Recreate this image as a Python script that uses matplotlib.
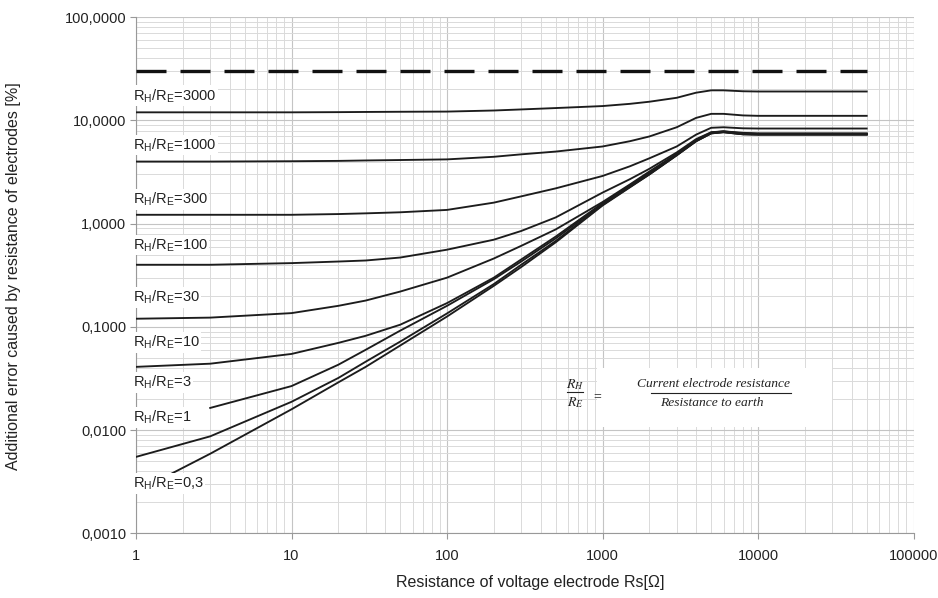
import numpy as np
import matplotlib.pyplot as plt
from matplotlib.lines import Line2D
from matplotlib.patches import Rectangle
from matplotlib.ticker import FixedLocator, FuncFormatter, LogLocator, NullFormatter

plt.rcParams['font.family'] = ['Liberation Sans', 'DejaVu Sans']
plt.rcParams['mathtext.fontset'] = 'custom'
plt.rcParams['mathtext.rm'] = 'Liberation Sans'

# Resistance of voltage electrode Rs [ohm]
rs = [1, 3, 10, 20, 30, 50, 100, 200, 300, 500, 1000, 1500, 2000, 3000, 4000, 5000, 6000, 8000, 10000, 50000]
rs_3 = rs[1:]                 # RH/RE=3 starts at Rs=3
rs_03 = [1.7] + rs[1:]        # RH/RE=0,3 starts a bit right of Rs=1

# Additional error [%] for each ratio RH/RE
err_3000 = [12.0, 12.0, 12.0, 12.05, 12.1, 12.15, 12.2, 12.5, 12.8, 13.2, 13.8, 14.5, 15.2, 16.6, 18.6, 19.6, 19.6, 19.2, 19.1, 19.1]
err_1000 = [4.0, 4.0, 4.03, 4.06, 4.1, 4.14, 4.2, 4.45, 4.7, 5.0, 5.6, 6.3, 7.0, 8.6, 10.6, 11.6, 11.6, 11.2, 11.1, 11.1]
err_300 = [1.22, 1.22, 1.22, 1.24, 1.26, 1.29, 1.36, 1.6, 1.84, 2.2, 2.9, 3.6, 4.3, 5.6, 7.3, 8.5, 8.6, 8.4, 8.36, 8.36]
err_100 = [0.40, 0.40, 0.415, 0.43, 0.44, 0.47, 0.56, 0.70, 0.85, 1.15, 2.0, 2.7, 3.4, 4.9, 6.6, 7.7, 7.85, 7.6, 7.5, 7.5]
err_30 = [0.12, 0.123, 0.136, 0.16, 0.18, 0.22, 0.30, 0.46, 0.61, 0.88, 1.62, 2.4, 3.2, 4.75, 6.45, 7.65, 7.85, 7.5, 7.45, 7.45]
err_10 = [0.041, 0.044, 0.0547, 0.07, 0.082, 0.105, 0.17, 0.30, 0.45, 0.75, 1.58, 2.35, 3.1, 4.7, 6.4, 7.6, 7.8, 7.45, 7.4, 7.4]
err_3 = [0.0164, 0.0267, 0.043, 0.060, 0.092, 0.16, 0.29, 0.43, 0.72, 1.55, 2.3, 3.05, 4.65, 6.35, 7.55, 7.75, 7.4, 7.35, 7.35]
err_1 = [0.0055, 0.0087, 0.0188, 0.032, 0.046, 0.072, 0.135, 0.26, 0.40, 0.68, 1.52, 2.27, 3.0, 4.6, 6.3, 7.5, 7.7, 7.35, 7.3, 7.3]
err_03 = [0.0038, 0.0059, 0.0159, 0.029, 0.041, 0.066, 0.126, 0.25, 0.38, 0.66, 1.5, 2.25, 3.0, 4.6, 6.3, 7.5, 7.7, 7.35, 7.3, 7.3]

# dashed limit line
limit_rs = [1, 50000]
limit_err = [30, 30]

ratio_labels = ['3000', '1000', '300', '100', '30', '10', '3', '1', '0,3']
# where each curve label sits (error value, axis units)
label_y = [17.4, 5.79, 1.72, 0.622, 0.1936, 0.0709, 0.0291, 0.0133, 0.00305]

W, H = 938, 598
fig = plt.figure(figsize=(W / 100, H / 100), dpi=100)
ax = fig.add_axes([136 / W, 1 - 533.3 / H, 777.5 / W, 516 / H])
ax.set_xscale('log')
ax.set_yscale('log')
ax.set_xlim(1, 1e5)
ax.set_ylim(0.001, 100)

# grid
ax.set_axisbelow(True)
ax.xaxis.set_minor_locator(LogLocator(base=10, subs=np.arange(2, 10)))
ax.yaxis.set_minor_locator(LogLocator(base=10, subs=np.arange(2, 10)))
ax.xaxis.set_minor_formatter(NullFormatter())
ax.yaxis.set_minor_formatter(NullFormatter())
ax.grid(which='major', color='#c4c4c4', lw=0.8)
ax.grid(which='minor', color='#dadada', lw=0.7)

ax.xaxis.set_major_locator(FixedLocator([1, 10, 100, 1000, 10000, 100000]))
ax.yaxis.set_major_locator(FixedLocator([0.001, 0.01, 0.1, 1, 10, 100]))
ax.xaxis.set_major_formatter(FuncFormatter(lambda v, p: f'{int(round(v))}'))
ax.yaxis.set_major_formatter(FuncFormatter(lambda v, p: f'{v:.4f}'.replace('.', ',')))
ax.tick_params(which='major', length=4, color='#999999', labelsize=10.5, labelcolor='#222222')
ax.tick_params(axis='x', which='major', pad=7)
ax.tick_params(axis='y', which='major', pad=3)
ax.tick_params(which='minor', length=0)
for side in ['top', 'right']:
    ax.spines[side].set_visible(False)
for side in ['left', 'bottom']:
    ax.spines[side].set_color('#999999')

# white box behind the ratio definition
ax.add_patch(Rectangle(((597 - 136) / 777.5, (533.3 - 427) / 516), (832 - 597) / 777.5, 59 / 516,
                       transform=ax.transAxes, facecolor='white', edgecolor='none', zorder=1.5))

# curves
line_kw = dict(color='#1c1c1c', lw=1.35, solid_joinstyle='round', zorder=3)
ax.plot(rs, err_3000, **line_kw)
ax.plot(rs, err_1000, **line_kw)
ax.plot(rs, err_300, **line_kw)
ax.plot(rs, err_100, **line_kw)
ax.plot(rs, err_30, **line_kw)
ax.plot(rs, err_10, **line_kw)
ax.plot(rs_3, err_3, **line_kw)
ax.plot(rs, err_1, **line_kw)
ax.plot(rs_03, err_03, **line_kw)

ax.plot(limit_rs, limit_err, color='#111111', lw=2.4, dashes=(9, 4.2), zorder=3)

# curve labels
for lab, yv in zip(ratio_labels, label_y):
    ax.text(0.956, yv, r'R$_\mathregular{H}$/R$_\mathregular{E}$=' + lab, fontsize=10.5,
            color='#222222', ha='left', va='center', zorder=4,
            bbox=dict(facecolor='white', edgecolor='none', pad=1.0))

# ratio definition
serif = dict(family='Liberation Serif', style='italic', color='#222222')
fig.text(575 / W, 1 - 385 / H, r'$R_H$', math_fontfamily='stix', fontsize=10,
         ha='center', va='center', color='#222222')
fig.text(575 / W, 1 - 403 / H, r'$R_E$', math_fontfamily='stix', fontsize=10,
         ha='center', va='center', color='#222222')
fig.add_artist(Line2D([567 / W, 583 / W], [1 - 392 / H] * 2, color='#222222', lw=0.8))
fig.text(597 / W, 1 - 397 / H, '=', fontsize=10, ha='center', va='center',
         family='Liberation Serif', color='#222222')
fig.text(713 / W, 1 - 384 / H, 'Current electrode resistance', fontsize=9.7,
         ha='center', va='center', **serif)
fig.text(712 / W, 1 - 403 / H, 'Resistance to earth', fontsize=9.7,
         ha='center', va='center', **serif)
fig.add_artist(Line2D([651 / W, 791 / W], [1 - 392.5 / H] * 2, color='#222222', lw=0.8))

# axis titles
fig.text(14 / W, 1 - 276 / H, 'Additional error caused by resistance of electrodes [%]',
         rotation=90, ha='center', va='center', fontsize=11.5, color='#222222')
fig.text(530 / W, 1 - 582 / H, 'Resistance of voltage electrode Rs[\u03a9]',
         ha='center', va='center', fontsize=11.5, color='#222222')

fig.savefig('out.png', dpi=100)
